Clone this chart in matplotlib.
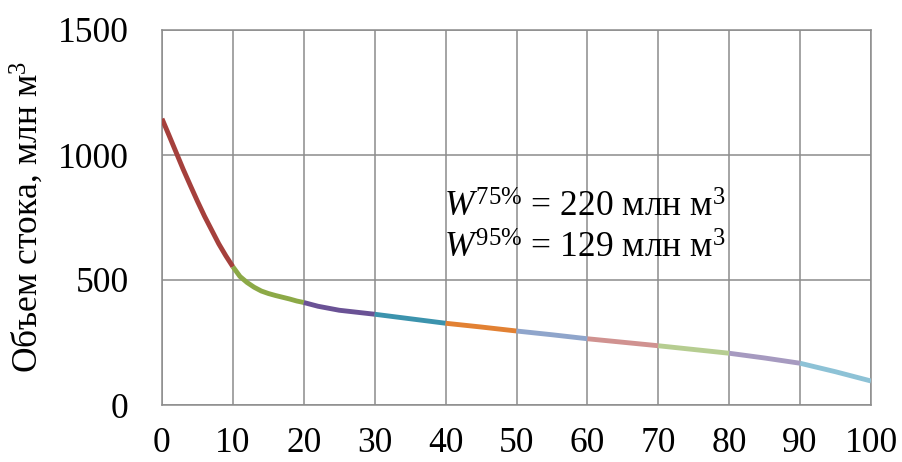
import matplotlib
matplotlib.use("Agg")
import matplotlib.pyplot as plt

plt.rcParams['font.family'] = ['Liberation Serif', 'DejaVu Serif']
plt.rcParams['mathtext.fontset'] = 'custom'
plt.rcParams['mathtext.rm'] = 'Liberation Serif'
plt.rcParams['mathtext.it'] = 'Liberation Serif:italic'

# Data
x_vals = [0, 1, 2, 3, 4, 5, 6, 7, 8, 9, 10, 11, 12, 13, 14, 15, 16, 17, 18,
          19, 20, 22, 25, 30, 35, 40, 45, 50, 55, 60, 65, 70, 75, 80, 85,
          90, 95, 100]
y_vals = [1145, 1078, 1010, 942, 878, 815, 755, 700, 645, 597, 553, 514, 490,
          471, 456, 446, 438, 431, 424, 416, 410, 395, 379, 363, 345, 327,
          312, 296, 281, 265, 251, 237, 222, 207, 188, 167, 133, 96]
segment_colors = ['#A5403C', '#8CA947', '#6A5295', '#3C93AD', '#E28133',
                  '#8FA5CB', '#D09290', '#B6CD91', '#A69AC0', '#8DC2D6']
x_ticks = [0, 10, 20, 30, 40, 50, 60, 70, 80, 90, 100]
y_ticks = [0, 500, 1000, 1500]
ylabel = 'Объем стока, млн м$^3$'
ann_lines = [r'$\mathit{W}^{75\%}$ = 220 млн м$^3$',
             r'$\mathit{W}^{95\%}$ = 129 млн м$^3$']

W, H = 902, 462
FS = 25.5
fig = plt.figure(figsize=(W / 100, H / 100), dpi=100)
ax = fig.add_axes([162 / W, 1 - 405 / H, (871 - 162) / W, (405 - 30) / H])

for k, c in enumerate(segment_colors):
    lo, hi = 10 * k, 10 * (k + 1)
    xs = [x for x in x_vals if lo <= x <= hi]
    ys = [y for x, y in zip(x_vals, y_vals) if lo <= x <= hi]
    ax.plot(xs, ys, color=c, lw=3.5, solid_capstyle='butt',
            solid_joinstyle='round', zorder=3)

ax.set_xlim(0, 100)
ax.set_ylim(0, 1500)
ax.set_xticks(x_ticks)
ax.set_yticks(y_ticks)
ax.grid(True, color='#8c8c8c', lw=1.1)
for s in ax.spines.values():
    s.set_color('#8c8c8c')
    s.set_linewidth(1.1)
ax.tick_params(length=0, labelsize=FS, colors='black')
ax.tick_params(axis='x', pad=16)
ax.tick_params(axis='y', pad=24)

fig.text(27 / W, 1 - 217 / H, ylabel, rotation=90, fontsize=FS,
         ha='center', va='center')

ax.text(39.8, 752, ann_lines[0], fontsize=FS, ha='left', va='baseline')
ax.text(39.8, 588, ann_lines[1], fontsize=FS, ha='left', va='baseline')

fig.savefig('out.png', dpi=100)
